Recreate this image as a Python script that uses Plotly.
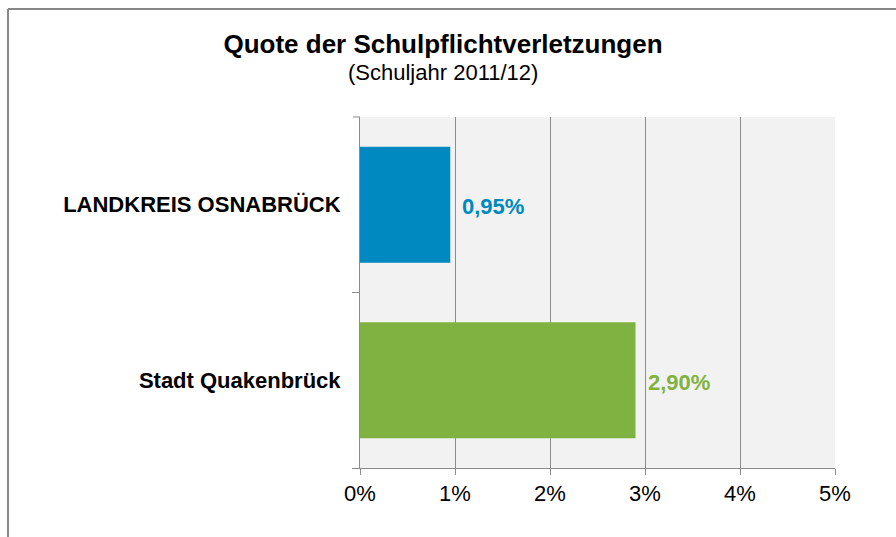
import plotly.graph_objects as go

categories = ["LANDKREIS OSNABRÜCK", "Stadt Quakenbrück"]
values = [0.95, 2.90]
value_labels = ["0,95%", "2,90%"]
bar_colors = ["#0088C1", "#80B241"]
x_ticks = [0, 1, 2, 3, 4, 5]
x_tick_labels = ["0%", "1%", "2%", "3%", "4%", "5%"]

W, H = 896, 537
L, R, T, B = 360, 61, 117, 69

fig = go.Figure()
fig.add_trace(go.Bar(
    y=categories, x=values, orientation="h",
    marker=dict(color=bar_colors, line=dict(width=0)),
    width=0.66, hoverinfo="skip",
))

for c, v, t, col in zip(categories, values, value_labels, bar_colors):
    fig.add_annotation(x=v, y=c, xref="x", yref="y", text="<b>%s</b>" % t,
                       showarrow=False, xanchor="left", yanchor="middle", xshift=10, yshift=-2,
                       font=dict(family="Liberation Sans, Arial", size=22, color=col))

grey = "#8C8C8C"
fig.update_layout(
    width=W, height=H,
    margin=dict(l=L, r=R, t=T, b=B, pad=0),
    paper_bgcolor="#FFFFFF", plot_bgcolor="#F2F2F2",
    showlegend=False,
    font=dict(family="Liberation Sans, Arial", color="#000000"),
    title=dict(text="<b>Quote der Schulpflichtverletzungen</b>", x=443 / W, xref="container",
               xanchor="center", y=1 - 44 / H, yref="container", yanchor="middle",
               font=dict(size=26, color="#000000")),
    xaxis=dict(range=[0, 5], tickvals=x_ticks, ticktext=x_tick_labels,
               showgrid=True, gridcolor=grey, gridwidth=1, zeroline=False,
               showline=True, linecolor=grey, linewidth=1,
               ticks="outside", ticklen=6, tickcolor=grey,
               tickfont=dict(size=22, color="#000000"), fixedrange=True),
    yaxis=dict(type="category", categoryorder="array", categoryarray=categories[::-1],
               showgrid=False, zeroline=False, showline=True, linecolor=grey, linewidth=1,
               ticks="outside", ticklen=7, tickcolor=grey, tickson="boundaries",
               tickfont=dict(size=22, color="#000000"), ticklabelstandoff=14, fixedrange=True),
)

fig.add_annotation(text="(Schuljahr 2011/12)", xref="paper", yref="paper",
                   x=(443 - L) / (W - L - R), y=(H - B - 72) / (H - T - B),
                   xanchor="center", yanchor="middle", showarrow=False,
                   font=dict(size=22, color="#000000"))

# bold y tick labels
fig.update_yaxes(ticktext=["<b>%s</b>" % c for c in categories], tickvals=categories)

px = lambda x: (x - L) / (W - L - R)
py = lambda y: (H - B - y) / (H - T - B)
# top boundary tick of the category axis
fig.add_shape(type="line", xref="paper", yref="paper", x0=px(353), x1=px(360), y0=1, y1=1,
              line=dict(color=grey, width=1))
# outer frame (left and top edges visible)
fig.add_shape(type="line", xref="paper", yref="paper", x0=px(8), x1=px(8), y0=py(9), y1=py(560),
              line=dict(color="#878787", width=2))
fig.add_shape(type="line", xref="paper", yref="paper", x0=px(8), x1=px(920), y0=py(9), y1=py(9),
              line=dict(color="#878787", width=2))

fig.write_html("out.html")
